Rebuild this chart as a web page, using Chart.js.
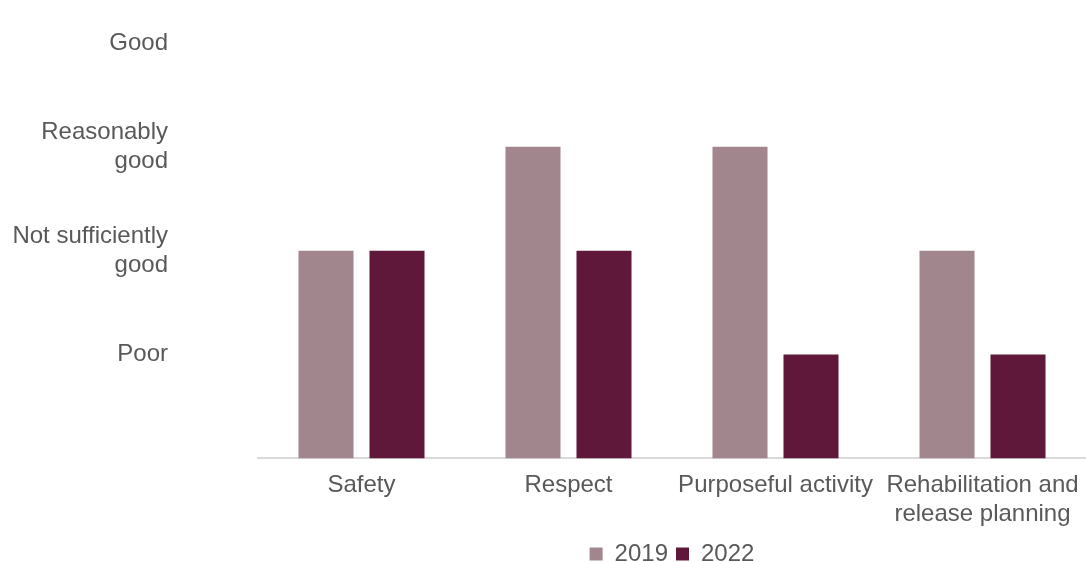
<!DOCTYPE html>
<html>
<head>
<meta charset="utf-8">
<script src="https://cdn.jsdelivr.net/npm/chart.js@4"></script>
<style>
  html, body { margin: 0; padding: 0; background: #fff; }
  #wrap { width: 1086px; height: 562px; }
</style>
</head>
<body>
<div id="wrap"><canvas id="myChart"></canvas></div>
<script>
// chart data
var categories = ["Safety", "Respect", "Purposeful activity", ["Rehabilitation and", "release planning"]];
var seriesNames = ["2019", "2022"];
var values2019 = [2, 3, 3, 2];
var values2022 = [2, 2, 1, 1];
var ratingLabels = ["", "Poor", ["Not sufficiently", "good"], ["Reasonably", "good"], "Good"];

var textColor = "#595959";
var fontFam = "Liberation Sans, Arial";

new Chart(document.getElementById("myChart"), {
    type: "bar",
    data: {
        labels: categories,
        datasets: [
            { label: seriesNames[0], data: values2019, backgroundColor: "#a1868d" },
            { label: seriesNames[1], data: values2022, backgroundColor: "#5f1839" }
        ]
    },
    options: {
        responsive: true,
        maintainAspectRatio: false,
        animation: false,
        datasets: { bar: { categoryPercentage: 0.686, barPercentage: 0.775 } },
        layout: { padding: { top: 43, right: 0, bottom: -14, left: 0 } },
        scales: {
            x: {
                grid: { display: false },
                border: { display: true, color: "#d9d9d9", width: 2 },
                ticks: {
                    color: textColor,
                    font: { family: fontFam, size: 24, lineHeight: 1.2 },
                    padding: 5,
                    maxRotation: 0,
                    autoSkip: false
                },
                afterFit: function (scale) { scale.paddingLeft = 0; scale.paddingRight = 0; }
            },
            y: {
                min: 0,
                max: 4,
                grid: { display: false },
                border: { display: false },
                ticks: {
                    stepSize: 1,
                    color: textColor,
                    font: { family: fontFam, size: 24, lineHeight: 1.2 },
                    padding: 82,
                    callback: function (v) { return ratingLabels[v]; }
                },
                afterFit: function (scale) {
                    scale.width = 258;
                    scale.paddingTop = 14;
                    scale.paddingBottom = 14;
                }
            }
        },
        plugins: {
            legend: {
                position: "bottom",
                fullSize: false,
                labels: {
                    color: textColor,
                    font: { family: fontFam, size: 24 },
                    boxWidth: 13,
                    boxHeight: 13,
                    padding: 8
                }
            },
            tooltip: { enabled: false }
        }
    }
});
</script>
</body>
</html>
